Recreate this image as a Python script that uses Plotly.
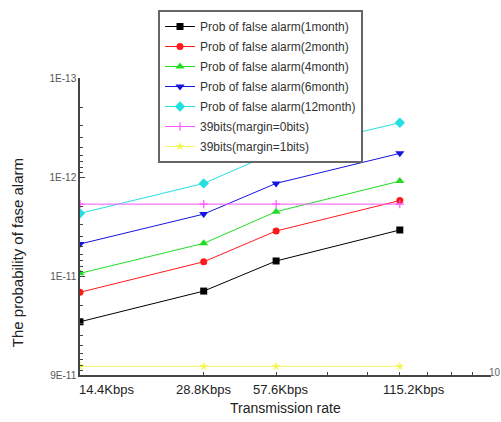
import math
import plotly.graph_objects as go

# x positions on the (log) axis and their labels
x_pos = [1, 2, 3, 6]
x_labels = ["14.4Kbps", "28.8Kbps", "57.6Kbps", "115.2Kbps"]

# series values (probability of false alarm)
p_1month = [2.90e-11, 1.42e-11, 7.05e-12, 3.43e-12]
p_2month = [1.46e-11, 7.18e-12, 3.51e-12, 1.73e-12]
p_4month = [9.40e-12, 4.68e-12, 2.24e-12, 1.10e-12]
p_6month = [4.75e-12, 2.37e-12, 1.16e-12, 5.77e-13]
p_12month = [2.33e-12, 1.16e-12, 5.58e-13, 2.83e-13]
bits39_m0 = [1.88e-12, 1.88e-12, 1.88e-12, 1.88e-12]
bits39_m1 = [8.17e-11, 8.17e-11, 8.17e-11, 8.17e-11]

y_tickvals = [1e-13, 1e-12, 1e-11, 1e-10]
y_ticktext = ["1E-13", "1E-12", "1E-11", "9E-11"]

series = [
    ("Prob of false alarm(1month)", p_1month, "#000000", "square", 7),
    ("Prob of false alarm(2month)", p_2month, "#ff1a1a", "circle", 7),
    ("Prob of false alarm(4month)", p_4month, "#22dd22", "triangle-up", 8),
    ("Prob of false alarm(6month)", p_6month, "#1515e0", "triangle-down", 8),
    ("Prob of false alarm(12month)", p_12month, "#22e0e0", "diamond", 8),
    ("39bits(margin=0bits)", bits39_m0, "#ff55ff", "cross-thin", 6),
    ("39bits(margin=1bits)", bits39_m1, "#f5f560", "star", 7),
]

fig = go.Figure()
for i, (name, vals, col, sym, sz) in enumerate(series):
    mk = dict(color=col, symbol=sym, size=sz)
    if sym == "cross-thin":
        mk["line"] = dict(color=col, width=1.2)
    fig.add_trace(go.Scatter(
        x=x_pos, y=vals, name=name, mode="lines+markers",
        line=dict(color=col, width=1), marker=mk, legendgroup=str(i),
    ))

minor_vals = [m * 10.0 ** e for e in (-13, -12, -11) for m in range(2, 10)]

fig.update_layout(
    width=501, height=422,
    margin=dict(l=80, r=10, t=78, b=47, autoexpand=False),
    paper_bgcolor="white", plot_bgcolor="white",
    font=dict(family="Liberation Sans, Arial, sans-serif", color="#333"),
    showlegend=True,
    legend=dict(
        x=(158 - 80) / 411, y=1 + (78 - 10) / 297, xanchor="left", yanchor="top",
        bgcolor="white", bordercolor="#666", borderwidth=2,
        font=dict(size=12, color="#333"), tracegroupgap=1,
    ),
    xaxis=dict(
        type="log", range=[0, 1], showgrid=False, zeroline=False,
        showline=True, linecolor="#444", linewidth=1.5,
        ticks="inside", ticklen=5, tickcolor="#444",
        tickvals=[1, 10], ticktext=["", ""],
        minor=dict(ticks="inside", ticklen=3, tickcolor="#444",
                   tickvals=[2, 3, 4, 5, 6, 7, 8, 9]),
    ),
    yaxis=dict(
        type="log", range=[-10, -13], showgrid=False, zeroline=False,
        showline=True, linecolor="#444", linewidth=1.5,
        ticks="inside", ticklen=5, tickcolor="#444",
        tickvals=y_tickvals, ticktext=y_ticktext,
        tickfont=dict(size=10, color="#555"),
        minor=dict(ticks="inside", ticklen=3, tickcolor="#444",
                   tickvals=minor_vals),
    ),
)

shifts = [(-3, "left"), (0, "center"), (4, "center"), (14, "center")]
for xv, lab, (sh, anc) in zip(x_pos, x_labels, shifts):
    fig.add_annotation(x=math.log10(xv), y=0, xref="x", yref="paper",
                       text=lab, showarrow=False, xanchor=anc, yanchor="top",
                       xshift=sh, yshift=-5,
                       font=dict(size=13, color="#222"))
fig.add_annotation(x=1, y=0, xref="x", yref="paper", text="10",
                   showarrow=False, xanchor="left", yanchor="bottom",
                   xshift=-4, yshift=-5, font=dict(size=10, color="#666"))
fig.add_annotation(x=0.5, y=0, xref="paper", yref="paper",
                   text="Transmission rate", showarrow=False,
                   xanchor="center", yanchor="top", yshift=-23,
                   font=dict(size=14, color="#222"))
fig.add_annotation(x=-63 / 411, y=0.41, xref="paper", yref="paper",
                   text="The probability of fase alarm", showarrow=False,
                   textangle=-90, xanchor="center", yanchor="middle",
                   font=dict(size=15, color="#222"))

fig.write_html("out.html", config={"displayModeBar": False},
               post_script="document.body.style.margin='0';")
